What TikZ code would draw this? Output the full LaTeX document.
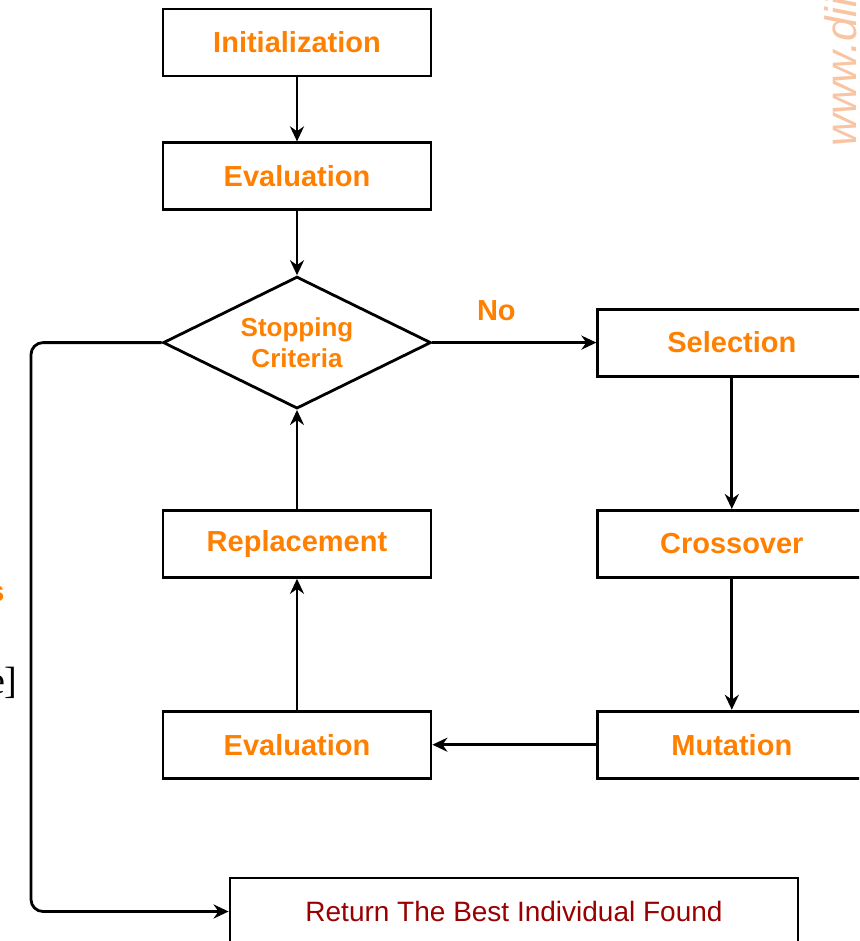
\documentclass[tikz,border=0pt]{standalone}
\usepackage{fontspec}
\setmainfont{Liberation Sans}
\newfontfamily\seriffont{Liberation Serif}
\usetikzlibrary{shapes.geometric, positioning, arrows.meta}
\definecolor{stepOrange}{HTML}{FF8000}
\definecolor{retRed}{HTML}{990000}
\definecolor{markPeach}{HTML}{F8C4A2}
\tikzset{->,
         >={Stealth[length=15pt,width=14pt]},
         box/.style={draw, rectangle, minimum width=268pt, minimum height=67pt,
                     inner sep=0pt, text=stepOrange,
                     font=\fontsize{29}{34}\selectfont\bfseries},
         decision/.style={draw, diamond, minimum width=268pt, minimum height=132pt,
                          inner sep=0pt, aspect=2, align=center, text=stepOrange,
                          font=\fontsize{26}{31}\selectfont\bfseries},
         }

\begin{document}
\begin{tikzpicture}[line width=2.8pt]
    \useasboundingbox (0,0) rectangle (859pt,-941pt);
    \clip (0,0) rectangle (859pt,-941pt);

    \node[box] (init) at (297pt,-42.5pt) {Initialization};
    \node[box, below=64pt of init] (eval1) {Evaluation};
    \node[decision, below=64pt of eval1] (stop) {Stopping\\Criteria};
    \node[box, right=164pt of stop] (sel) {Selection};
    \node[box, below=131.5pt of sel] (cross) {Crossover};
    \node[box, below=131pt of cross] (mut) {Mutation};
    \node[box, below=99pt of stop] (repl) {Replacement};
    \node[box, below=131pt of repl] (eval2) {Evaluation};
    \node[box, below=97pt of eval2, xshift=217pt, minimum width=568pt,
          text=retRed, font=\fontsize{28}{33}\selectfont] (ret) {Return The Best Individual Found};
    \coordinate (loopx) at (31pt,0);

    \draw (init) -- (eval1);
    \draw (eval1) -- (stop);
    \draw (stop) -- node[pos=0.39, yshift=32pt, text=stepOrange,
                         font=\fontsize{29}{34}\selectfont\bfseries] (no) {No} (sel);
    \draw (sel) -- (cross);
    \draw (cross) -- (mut);
    \draw (mut) -- (eval2);
    \draw (eval2) -- (repl);
    \draw (repl) -- (stop);
    \draw[rounded corners=12pt] (stop.west) -| (loopx |- ret.west) -- (ret.west);

    % cut-off bits at the page edges
    \node[rotate=90, anchor=base west, inner sep=0pt, text=markPeach,
          font=\fontsize{44}{50}\selectfont\itshape] (mark) at (856pt,-148pt) {www.dii};
    \node[anchor=east, inner sep=0pt, text=stepOrange,
          font=\fontsize{29}{34}\selectfont\bfseries] (sfrag) at (6pt,-594pt) {s};
    \node[anchor=base east, inner sep=0pt,
          font=\fontsize{38}{44}\seriffont] (efrag) at (19pt,-693pt) {e]};
\end{tikzpicture}
\end{document}
